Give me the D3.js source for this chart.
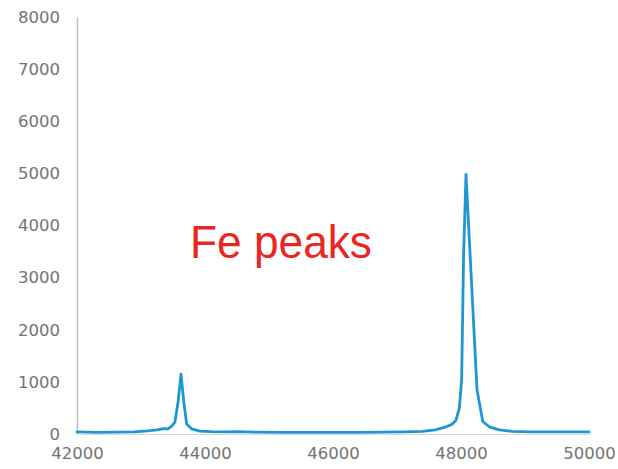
<!DOCTYPE html>
<html>
<head>
<meta charset="utf-8">
<script src="https://cdn.jsdelivr.net/npm/d3@7/dist/d3.min.js"></script>
<style>
  html, body { margin: 0; padding: 0; background: #ffffff; }
  svg { display: block; }
</style>
</head>
<body>
<svg id="chart" width="618" height="469"></svg>
<script>
// X-ray energy spectrum (eV) and detector counts
const energies = [42000, 42300, 42600, 42900, 43100, 43250, 43350, 43420, 43480, 43530,
  43580, 43625, 43670, 43714, 43790, 43920, 44100, 44300, 44500, 44800,
  45200, 45600, 46000, 46400, 46800, 47100, 47400, 47600, 47750, 47850,
  47920, 47975, 48010, 48040, 48078, 48250, 48340, 48450, 48600, 48800,
  49100, 49400, 49700, 50000];
const counts = [40, 30, 35, 40, 60, 80, 105, 100, 150, 230,
  620, 1150, 600, 190, 100, 55, 45, 40, 45, 35,
  30, 30, 30, 30, 35, 40, 50, 80, 130, 180,
  260, 500, 1050, 3400, 4980, 850, 240, 130, 80, 50,
  40, 40, 40, 40];

const xTicks = [42000, 44000, 46000, 48000, 50000];
const yTicks = [0, 1000, 2000, 3000, 4000, 5000, 6000, 7000, 8000];
const annotation = "Fe peaks";

const svg = d3.select("#chart");

const x = d3.scaleLinear().domain([42000, 50000]).range([77, 589]);
const y = d3.scaleLinear().domain([0, 8000]).range([434, 17]);

const labelFont = "'DejaVu Sans', sans-serif";

// vertical axis
const yAxis = svg.append("g")
  .attr("transform", `translate(${x(42000)},0)`)
  .call(d3.axisLeft(y).tickValues(yTicks).tickSize(0).tickSizeOuter(0).tickPadding(17).tickFormat(d3.format("d")));
yAxis.select(".domain").attr("stroke", "#bfbfbf").attr("stroke-width", 1.5);
yAxis.selectAll("text")
  .attr("fill", "#737373")
  .style("font-family", labelFont)
  .style("font-size", "16.5px");

// horizontal axis
const xAxis = svg.append("g")
  .attr("transform", `translate(0,${y(0)})`)
  .call(d3.axisBottom(x).tickValues(xTicks).tickSize(0).tickSizeOuter(0).tickPadding(13).tickFormat(d3.format("d")));
xAxis.select(".domain").attr("stroke", "#d9d9d9").attr("stroke-width", 1.2);
xAxis.selectAll("text")
  .attr("fill", "#737373")
  .style("font-family", labelFont)
  .style("font-size", "16.5px");

// spectrum line
const line = d3.line()
  .x((d, i) => x(energies[i]))
  .y(d => y(d));

svg.append("path")
  .datum(counts)
  .attr("fill", "none")
  .attr("stroke", "#1f96d4")
  .attr("stroke-width", 2.8)
  .attr("stroke-linejoin", "round")
  .attr("stroke-linecap", "round")
  .attr("d", line);

// annotation
svg.append("text")
  .attr("x", 190)
  .attr("y", 258)
  .attr("fill", "#e8271f")
  .attr("textLength", 182)
  .attr("lengthAdjust", "spacingAndGlyphs")
  .style("font-family", "'Liberation Sans', Arial, sans-serif")
  .style("font-size", "47px")
  .text(annotation);
</script>
</body>
</html>
